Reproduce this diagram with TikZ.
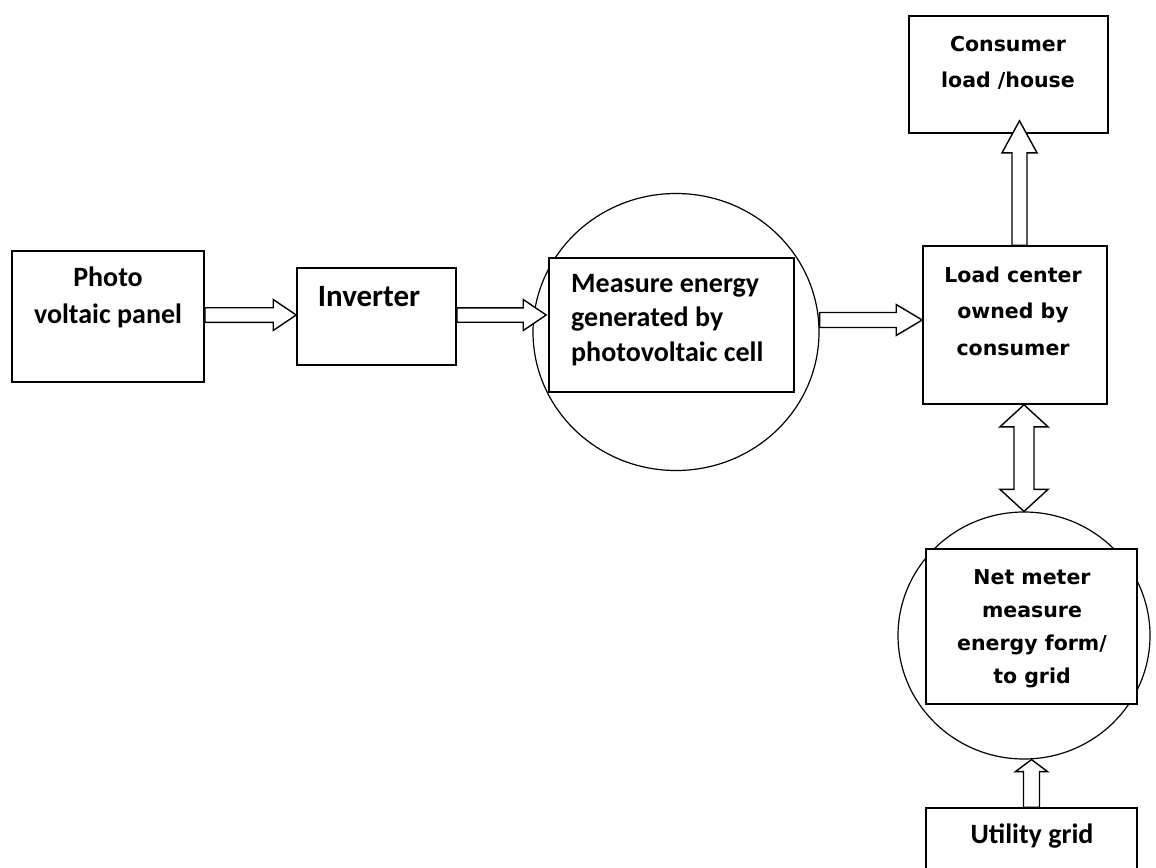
\documentclass[tikz,border=0pt]{standalone}
\usepackage{fontspec}
\setmainfont{Carlito}
\newfontfamily\dvsfont{DejaVu Sans}
\usetikzlibrary{shapes.geometric,calc}
\tikzset{
  boxnode/.style={draw, line width=1.6pt, fill=white, inner sep=0pt},
  meter/.style={draw, ellipse, line width=1.2pt, inner sep=0pt},
  blk/.style={draw, line width=1.4pt, fill=white, line join=miter},
  cal/.style={font=\bfseries\fontsize{28}{#1}\selectfont, inner sep=0pt, align=center},
  cal/.default=37,
  dvs/.style={font=\dvsfont\bfseries\fontsize{20.5}{#1}\selectfont, inner sep=0pt, align=center},
  dvs/.default=36.5
}
% horizontal block arrow to the right: start, end, shaft half, head half, head length
\newcommand\rblock[5]{%
  \draw[blk] let \p1=(#1), \p2=(#2) in
    (\x1,\y1+#3) -- (\x2-#5,\y1+#3) -- (\x2-#5,\y1+#4) -- (\x2,\y1)
    -- (\x2-#5,\y1-#4) -- (\x2-#5,\y1-#3) -- (\x1,\y1-#3) -- cycle;}
% vertical block arrow upward: start (bottom), end (top)
\newcommand\ublock[5]{%
  \draw[blk] let \p1=(#1), \p2=(#2) in
    (\x1+#3,\y1) -- (\x1+#3,\y2-#5) -- (\x1+#4,\y2-#5) -- (\x1,\y2)
    -- (\x1-#4,\y2-#5) -- (\x1-#3,\y2-#5) -- (\x1-#3,\y1) -- cycle;}
% vertical double block arrow: bottom tip, top tip
\newcommand\dblock[5]{%
  \draw[blk] let \p1=(#1), \p2=(#2) in
    (\x1,\y2) -- (\x1+#4,\y2-#5) -- (\x1+#3,\y2-#5) -- (\x1+#3,\y1+#5)
    -- (\x1+#4,\y1+#5) -- (\x1,\y1) -- (\x1-#4,\y1+#5) -- (\x1-#3,\y1+#5)
    -- (\x1-#3,\y2-#5) -- (\x1-#4,\y2-#5) -- cycle;}
\begin{document}
\begin{tikzpicture}[x=1pt,y=-1pt]
\useasboundingbox (0,0) rectangle (1156,867);
\clip (0,0) rectangle (1156,867);
\fill[white] (0,0) rectangle (1156,867);

% meter outlines
\node[meter, minimum width=286pt, minimum height=277pt] (circ) at (676,332) {};
\node[meter, minimum width=252pt, minimum height=247pt] (ell) at (1024,635.5) {};

% boxes
\node[boxnode, minimum width=192pt, minimum height=131pt] (pv) at (108,316.5) {};
\node[boxnode, minimum width=159pt, minimum height=97pt] (inv) at (376.5,316.5) {};
\node[boxnode, minimum width=245pt, minimum height=134pt] (meas) at (671.5,325) {};
\node[boxnode, minimum width=184pt, minimum height=158pt] (load) at (1015,325) {};
\node[boxnode, minimum width=199pt, minimum height=117pt] (cons) at (1008.5,74.5) {};
\node[boxnode, minimum width=211pt, minimum height=155pt] (net) at (1031.5,626.5) {};
\node[boxnode, minimum width=211pt, minimum height=92pt] (util) at (1031.5,854) {};

% texts
\node[cal, anchor=base] (pvt) at (108,323) {Photo\\voltaic panel};
\node[cal, font=\bfseries\fontsize{31}{37}\selectfont, anchor=base] (invt) at (369,306) {Inverter};
\node[cal=34.5, align=left, anchor=base west] (meast) at (571,361) {Measure energy\\generated by\\photovoltaic cell};
\node[dvs, anchor=base] (loadt) at (1013,355) {Load center\\owned by\\consumer};
\node[dvs=36, anchor=base] (const) at (1008,88) {Consumer\\load /house};
\node[dvs=33, anchor=base] (nett) at (1032,683) {Net meter\\measure\\energy form/\\to grid};
\node[cal, anchor=base] (utilt) at (1032,843) {Utility grid};

% connectors
\coordinate (a1s) at ($(pv.east)+(0,-1.5)$);
\rblock{a1s}{inv.west}{7.3pt}{15.5pt}{23pt}
\coordinate (a2s) at ($(inv.east)+(0,-1.5)$);
\coordinate (a2e) at ($(meas.west)+(-2,0)$);
\rblock{a2s}{a2e}{7.2pt}{15.5pt}{23pt}
\coordinate (a3s) at ($(circ.east)+(0,-12)$);
\rblock{a3s}{load.west}{7.5pt}{15.5pt}{26pt}
\coordinate (a4s) at ($(load.north)+(4.5,0)$);
\coordinate (a4e) at ($(cons.south)+(0,-13)$);
\ublock{a4s}{a4e}{7.5pt}{17.5pt}{32pt}
\dblock{ell.north}{load.south}{10pt}{24pt}{22pt}
\ublock{util.north}{ell.south}{8pt}{16pt}{12pt}
\end{tikzpicture}
\end{document}
